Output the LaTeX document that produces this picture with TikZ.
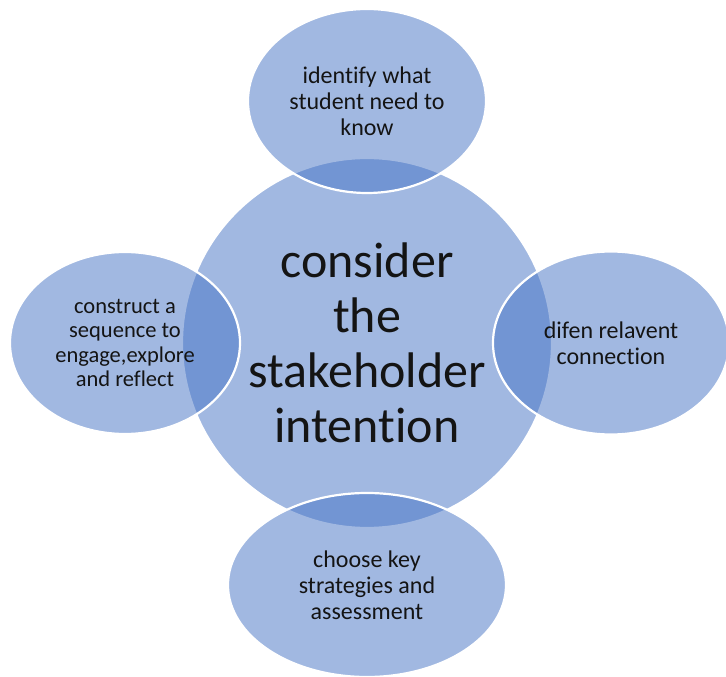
\documentclass[tikz,border=0pt]{standalone}
\usepackage{fontspec}
\setmainfont{Carlito}[Ligatures={NoCommon}]
\usetikzlibrary{shapes.geometric,positioning}
\definecolor{petalblue}{HTML}{4472C4}
\definecolor{ink}{HTML}{141414}
\tikzset{
	blob/.style={ellipse,draw=white,line width=2.2pt,fill=petalblue,fill opacity=0.5,text opacity=1,text=ink,align=center,inner sep=0pt},
	hubnode/.style={blob,circle,minimum size=370pt,font=\fontsize{50}{55}\selectfont},
	petal/.style={blob,font=\fontsize{24}{26}\selectfont}
}

\begin{document}
\begin{tikzpicture}[node distance=242pt]
	\useasboundingbox (-367pt,343pt) rectangle (359pt,-334pt);
	\node[hubnode] (hub) {consider\\the\\stakeholder\\intention};
	\node[petal,minimum width=238pt,minimum height=184pt] (know) [above of=hub] {identify what\\student need to\\know};
	\node[petal,minimum width=230pt,minimum height=182pt,font=\fontsize{22.5}{24.5}\selectfont] (seq) [left of=hub] {construct a\\sequence to\\engage,explore\\and reflect};
	\node[petal,minimum width=236pt,minimum height=183pt] (conn) [right of=hub,node distance=244pt] {difen relavent\\connection};
	\node[petal,minimum width=278pt,minimum height=184pt] (strat) [below of=hub] {choose key\\strategies and\\assessment};
\end{tikzpicture}
\end{document}
